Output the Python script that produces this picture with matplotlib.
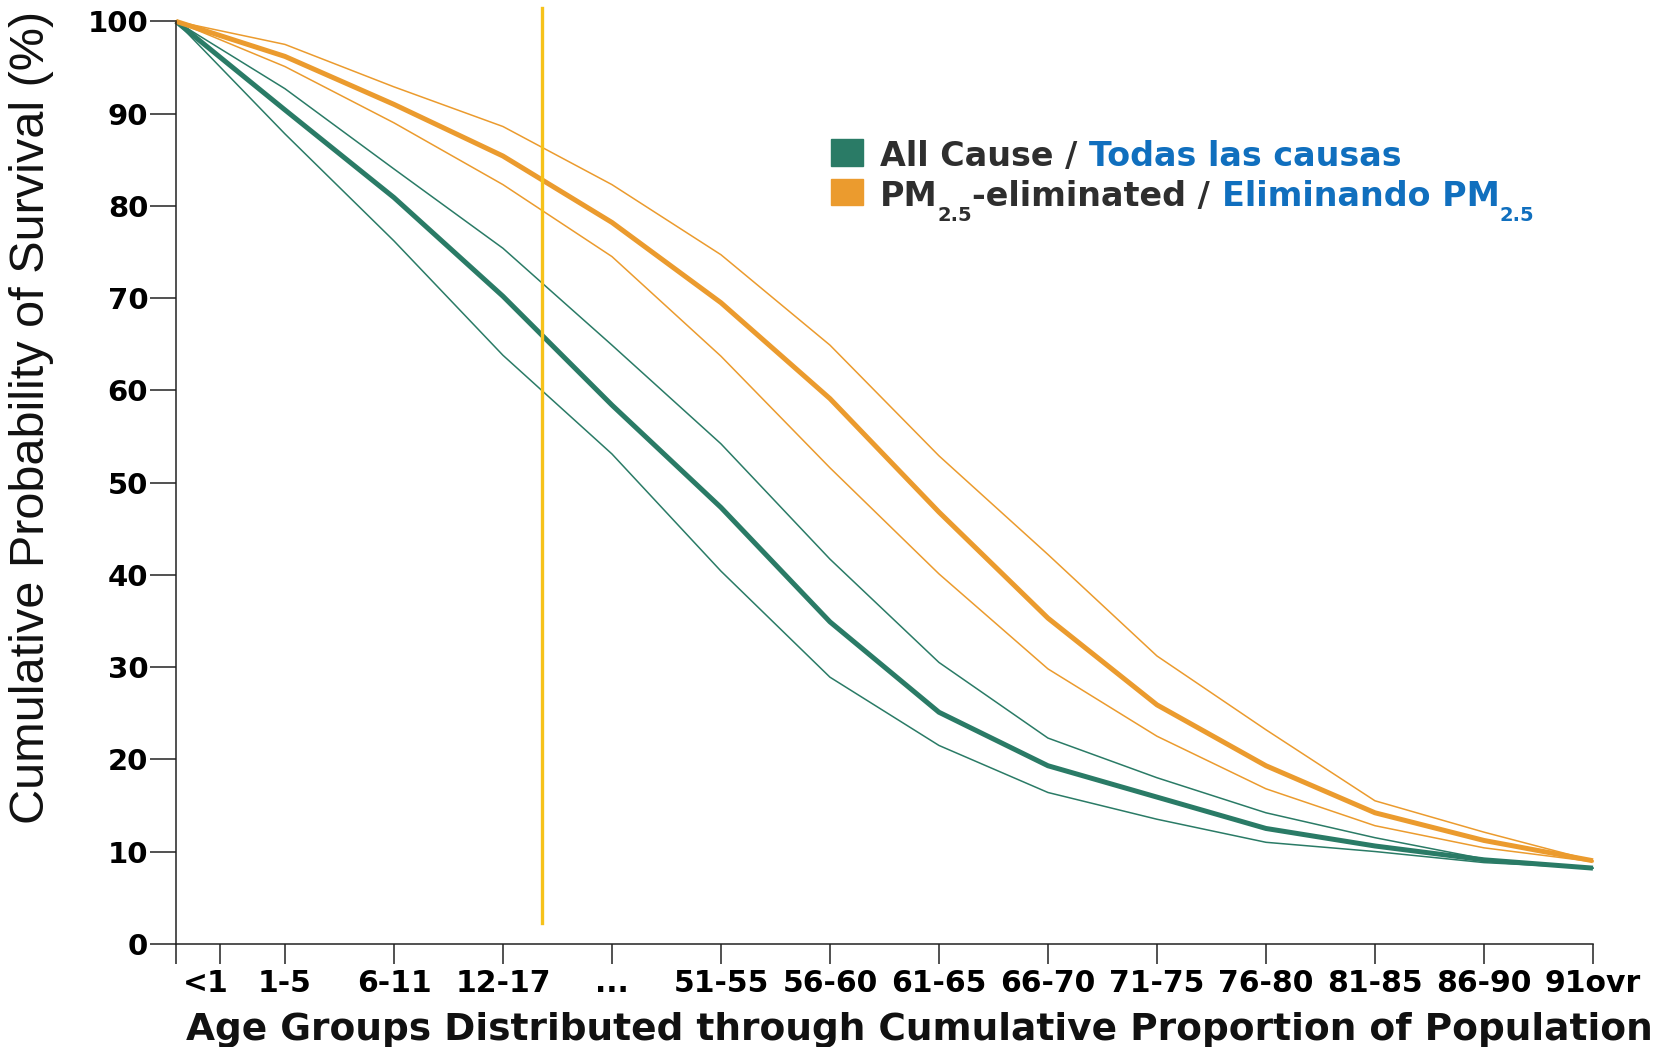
import matplotlib
matplotlib.use("Agg")
import matplotlib.pyplot as plt
import matplotlib.transforms as mtransforms
from matplotlib.patches import Rectangle

# ---------- Data ----------
x_pos = list(range(14))
age_labels = ["", "1-5", "6-11", "12-17", "...", "51-55", "56-60", "61-65",
              "66-70", "71-75", "76-80", "81-85", "86-90", "91ovr"]
first_label = "<1"
first_tick = 0.4

all_cause    = [100, 90.4, 80.9, 70.2, 58.4, 47.3, 34.9, 25.1, 19.3, 15.9, 12.5, 10.6, 9.1, 8.2]
all_cause_hi = [100, 92.7, 84.0, 75.4, 64.9, 54.2, 41.7, 30.5, 22.3, 18.0, 14.2, 11.5, 9.2, 8.2]
all_cause_lo = [100, 87.8, 76.2, 63.8, 53.1, 40.4, 28.9, 21.5, 16.4, 13.5, 11.0, 10.0, 8.8, 8.2]

pm_elim    = [100, 96.2, 91.0, 85.4, 78.2, 69.5, 59.1, 46.8, 35.3, 25.9, 19.3, 14.2, 11.2, 9.0]
pm_elim_hi = [100, 97.5, 92.9, 88.6, 82.3, 74.7, 64.9, 52.9, 42.2, 31.2, 23.2, 15.5, 12.1, 9.0]
pm_elim_lo = [100, 95.1, 89.0, 82.3, 74.5, 63.7, 51.6, 40.1, 29.8, 22.5, 16.8, 12.8, 10.4, 8.9]

marker_x = 3.36
marker_span = [2.2, 101.4]

GREEN = "#2a7b66"
ORANGE = "#eb9b2e"
YELLOW = "#f6c21a"
GRAY = "#2e2e2e"
BLUE = "#106fbe"

# ---------- Figure ----------
fig = plt.figure(figsize=(16.74, 10.47), dpi=100)
ax = fig.add_axes([0.1051, 0.0986, 0.8465, 0.8810])

ax.plot(x_pos, all_cause_hi, color=GREEN, lw=1.1, clip_on=False)
ax.plot(x_pos, all_cause_lo, color=GREEN, lw=1.1, clip_on=False)
ax.plot(x_pos, all_cause, color=GREEN, lw=3.6, clip_on=False, solid_capstyle="butt")
ax.plot(x_pos, pm_elim_hi, color=ORANGE, lw=1.1, clip_on=False)
ax.plot(x_pos, pm_elim_lo, color=ORANGE, lw=1.1, clip_on=False)
ax.plot(x_pos, pm_elim, color=ORANGE, lw=3.6, clip_on=False, solid_capstyle="butt")
ax.plot([marker_x, marker_x], marker_span, color=YELLOW, lw=2.4, clip_on=False)

ax.set_xlim(0, 13)
ax.set_ylim(0, 100)
for s in ["top", "right"]:
    ax.spines[s].set_visible(False)
for s in ["left", "bottom"]:
    ax.spines[s].set_linewidth(1.1)
    ax.spines[s].set_color("#222222")

ax.set_yticks(range(0, 101, 10))
ax.set_yticklabels([str(v) for v in range(0, 101, 10)], fontsize=21,
                   fontweight="bold", family="DejaVu Sans")
ax.tick_params(axis="y", length=18.5, width=1.1, pad=1.5, color="#222222")

ax.set_xticks(x_pos)
ax.set_xticklabels(age_labels, fontsize=21.5, fontweight="bold", family="DejaVu Sans")
ax.tick_params(axis="x", length=14.4, width=1.1, pad=3.5, color="#222222")
ax.set_xticks([first_tick], [first_label], minor=True)
ax.tick_params(axis="x", which="minor", length=14.4, width=1.1, pad=3.5,
               labelsize=21.5, color="#222222")
for lab in ax.get_xticklabels(minor=True):
    lab.set_fontweight("bold")
    lab.set_family("DejaVu Sans")
    lab.set_transform(lab.get_transform() +
                      mtransforms.ScaledTranslation(-14 / 100, 0, fig.dpi_scale_trans))

fig.text(0.549, 0.0065, "Age Groups Distributed through Cumulative Proportion of Population",
         ha="center", va="baseline", fontsize=27, fontweight="bold",
         family="DejaVu Sans", color="#111111")
fig.text(0.0186, 0.6017, "Cumulative Probability of Survival (%)", rotation=90,
         ha="center", va="center", fontsize=35, family="Liberation Sans",
         color="#111111")

# ---------- Legend ----------
W, H = fig.get_size_inches() * fig.dpi
fig.patches.append(Rectangle((830.6 / W, 1 - 165.5 / H), 32 / W, 26.7 / H,
                             transform=fig.transFigure, color=GREEN))
fig.patches.append(Rectangle((830.6 / W, 1 - 205 / H), 32 / W, 25.6 / H,
                             transform=fig.transFigure, color=ORANGE))

renderer = fig.canvas.get_renderer()


def width_px(s, size):
    t = fig.text(0, 0, s, fontsize=size, fontweight="bold", family="DejaVu Sans")
    w = t.get_window_extent(renderer).width
    t.remove()
    return w


def rich_line(x_px, base_px, pieces):
    x = x_px
    for txt, color, size, dy in pieces:
        if txt == " ":
            x += width_px("x x", size) - width_px("xx", size)
            continue
        t = fig.text(x / W, 1 - (base_px + dy) / H, txt, color=color, fontsize=size,
                     fontweight="bold", family="DejaVu Sans", va="baseline", ha="left")
        x += t.get_window_extent(renderer).width


rich_line(880, 166, [("All Cause /", GRAY, 24, 0), (" ", GRAY, 24, 0),
                     ("Todas las causas", BLUE, 24, 0)])
rich_line(880, 206, [("PM", GRAY, 24, 0), ("2.5", GRAY, 14, 15),
                     ("-eliminated /", GRAY, 24, 0), (" ", GRAY, 24, 0),
                     ("Eliminando PM", BLUE, 24, 0), ("2.5", BLUE, 14, 15)])

fig.savefig("out.png", dpi=100)
